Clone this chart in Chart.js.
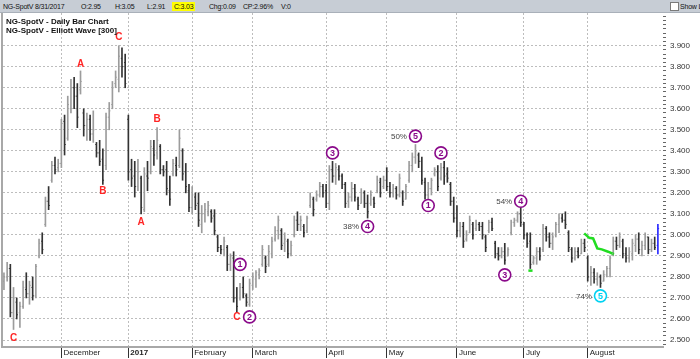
<!DOCTYPE html>
<html>
<head>
<meta charset="utf-8">
<script src="https://cdn.jsdelivr.net/npm/chart.js@4.4.0/dist/chart.umd.min.js"></script>
<style>
  body { margin: 0; background: #fff; }
  #wrap { position: relative; width: 700px; height: 359px; overflow: hidden; font-family: "Liberation Sans", Arial, sans-serif; }
  #chart { position: absolute; left: 0; top: 0; }
  #header { position: absolute; left: 0; top: 0; width: 700px; height: 13px; background: #c7cdd5; border-bottom: 1px solid #a9b0b9; box-sizing: border-box; font-size: 7px; letter-spacing: -0.2px; color: #111; }
  #header span { position: absolute; top: 2px; line-height: 9px; white-space: nowrap; }
  #header .hl { background: #ffff00; padding: 0 2px; margin-left: -2px; }
  #header .box { width: 7px; height: 7px; top: 2px; background: #fff; border: 1px solid #7a7a7a; }
  #titles { position: absolute; left: 6px; top: 18px; font-weight: bold; font-size: 8px; line-height: 8.5px; color: #111; }
  #leftEdge { position: absolute; left: 1px; top: 13px; width: 2px; height: 335px; background: #a8a8a8; }
</style>
</head>
<body>
<div id="wrap">
  <canvas id="chart" width="700" height="359"></canvas>
  <div id="leftEdge"></div>
  <div id="header">
    <span style="left:3px">NG-SpotV</span>
    <span style="left:35px">8/31/2017</span>
    <span style="left:81px">O:2.95</span>
    <span style="left:115px">H:3.05</span>
    <span style="left:147px">L:2.91</span>
    <span class="hl" style="left:174px">C:3.03</span>
    <span style="left:209px">Chg:0.09</span>
    <span style="left:243px">CP:2.96%</span>
    <span style="left:281px">V:0</span>
    <span class="box" style="left:670px"></span>
    <span style="left:680px">Show L</span>
  </div>
  <div id="titles">NG-SpotV - Daily Bar Chart<br>NG-SpotV - Elliott Wave [300]</div>
</div>
<script>
// daily bars, Nov 2016 .. 31 Aug 2017 (index = trading day)
const highs = [
  2.82, 2.87, 2.86, 2.75, 2.70, 2.68, 2.78, 2.82, 2.78, 2.80,
  2.86, 2.98, 3.01, 3.18, 3.23, 3.35, 3.37, 3.36, 3.55, 3.57,
  3.66, 3.74, 3.75, 3.72, 3.78, 3.60, 3.58, 3.57, 3.59, 3.44,
  3.45, 3.41, 3.58, 3.63, 3.73, 3.78, 3.90, 3.89, 3.86, 3.57,
  3.36, 3.35, 3.36, 3.28, 3.32, 3.35, 3.45, 3.45, 3.51, 3.43,
  3.33, 3.35, 3.28, 3.36, 3.37, 3.50, 3.41, 3.34, 3.24, 3.23,
  3.20, 3.20, 3.14, 3.15, 3.16, 3.12, 3.12, 3.00, 2.95, 2.99,
  2.95, 2.91, 2.92, 2.75, 2.77, 2.80, 2.72, 2.79, 2.82, 2.83,
  2.84, 2.95, 2.90, 2.95, 2.99, 3.04, 3.09, 3.03, 3.01, 2.98,
  2.97, 3.09, 3.11, 3.09, 3.05, 3.09, 3.20, 3.18, 3.21, 3.25,
  3.24, 3.24, 3.33, 3.35, 3.34, 3.33, 3.29, 3.25, 3.20, 3.25,
  3.24, 3.18, 3.22, 3.21, 3.19, 3.21, 3.18, 3.28, 3.27, 3.28,
  3.32, 3.25, 3.24, 3.23, 3.29, 3.21, 3.24, 3.35, 3.39, 3.43,
  3.39, 3.37, 3.27, 3.25, 3.27, 3.32, 3.33, 3.34, 3.35, 3.32,
  3.25, 3.18, 3.14, 3.06, 3.06, 3.02, 3.09, 3.06, 3.07, 3.06,
  3.06, 3.00, 3.07, 3.08, 2.97, 2.94, 2.94, 2.96, 2.94, 3.07,
  3.08, 3.11, 3.13, 3.06, 3.01, 3.01, 2.90, 2.94, 2.94, 3.05,
  3.04, 3.01, 3.01, 3.06, 3.10, 3.10, 3.11, 3.02, 2.94, 2.94,
  2.94, 2.98, 2.98, 2.90, 2.85, 2.84, 2.82, 2.81, 2.83, 2.85,
  2.90, 2.99, 2.99, 3.01, 2.98, 2.94, 2.94, 2.98, 3.00, 3.01,
  2.97, 3.01, 2.99, 2.98, 2.99, 3.05
];
const lows = [
  2.74, 2.78, 2.61, 2.55, 2.60, 2.56, 2.65, 2.70, 2.67, 2.69,
  2.70, 2.89, 2.91, 3.04, 3.12, 3.25, 3.29, 3.30, 3.32, 3.38,
  3.45, 3.58, 3.60, 3.51, 3.67, 3.47, 3.45, 3.45, 3.44, 3.37,
  3.33, 3.24, 3.31, 3.50, 3.60, 3.70, 3.68, 3.75, 3.70, 3.26,
  3.23, 3.18, 3.21, 3.10, 3.11, 3.21, 3.29, 3.33, 3.36, 3.29,
  3.28, 3.19, 3.14, 3.28, 3.28, 3.32, 3.26, 3.20, 3.11, 3.10,
  3.12, 3.04, 3.01, 3.06, 3.09, 3.06, 3.00, 2.92, 2.91, 2.90,
  2.83, 2.83, 2.68, 2.63, 2.69, 2.70, 2.66, 2.66, 2.74, 2.75,
  2.79, 2.85, 2.82, 2.85, 2.89, 2.97, 2.98, 2.93, 2.92, 2.89,
  2.90, 2.99, 3.02, 3.02, 2.99, 3.01, 3.13, 3.09, 3.16, 3.18,
  3.18, 3.13, 3.12, 3.25, 3.24, 3.26, 3.22, 3.13, 3.13, 3.16,
  3.16, 3.12, 3.15, 3.13, 3.08, 3.14, 3.13, 3.20, 3.18, 3.22,
  3.21, 3.18, 3.18, 3.17, 3.18, 3.14, 3.17, 3.25, 3.30, 3.34,
  3.32, 3.24, 3.17, 3.16, 3.19, 3.28, 3.21, 3.26, 3.24, 3.25,
  3.14, 3.06, 2.99, 2.99, 2.94, 2.97, 3.01, 2.98, 3.02, 3.02,
  2.98, 2.92, 3.01, 3.02, 2.89, 2.88, 2.89, 2.86, 2.90, 3.00,
  3.04, 3.06, 3.04, 2.98, 2.94, 2.84, 2.86, 2.86, 2.88, 2.92,
  2.97, 2.94, 2.93, 2.99, 3.01, 3.06, 3.03, 2.92, 2.87, 2.88,
  2.89, 2.91, 2.92, 2.78, 2.76, 2.77, 2.76, 2.75, 2.78, 2.80,
  2.80, 2.90, 2.93, 2.94, 2.89, 2.87, 2.87, 2.88, 2.92, 2.91,
  2.90, 2.93, 2.91, 2.92, 2.93, 2.91
];
const opens = [
  2.78, 2.80, 2.84, 2.63, 2.68, 2.63, 2.66, 2.74, 2.72, 2.75,
  2.71, 2.90, 2.97, 3.05, 3.16, 3.26, 3.33, 3.32, 3.34, 3.54,
  3.46, 3.60, 3.70, 3.66, 3.69, 3.58, 3.52, 3.55, 3.48, 3.43,
  3.39, 3.36, 3.33, 3.56, 3.62, 3.72, 3.74, 3.84, 3.82, 3.55,
  3.31, 3.28, 3.23, 3.27, 3.12, 3.28, 3.30, 3.41, 3.39, 3.42,
  3.31, 3.31, 3.21, 3.29, 3.33, 3.33, 3.40, 3.30, 3.21, 3.13,
  3.18, 3.15, 3.05, 3.10, 3.11, 3.11, 3.09, 2.99, 2.94, 2.93,
  2.94, 2.86, 2.89, 2.70, 2.70, 2.75, 2.71, 2.67, 2.76, 2.79,
  2.81, 2.86, 2.89, 2.86, 2.91, 2.98, 3.02, 3.02, 2.96, 2.97,
  2.91, 3.00, 3.07, 3.05, 3.04, 3.02, 3.14, 3.17, 3.17, 3.19,
  3.23, 3.21, 3.15, 3.31, 3.28, 3.31, 3.28, 3.24, 3.16, 3.18,
  3.22, 3.17, 3.15, 3.20, 3.15, 3.15, 3.17, 3.21, 3.25, 3.23,
  3.26, 3.23, 3.20, 3.22, 3.19, 3.20, 3.17, 3.26, 3.33, 3.37,
  3.38, 3.35, 3.25, 3.19, 3.22, 3.29, 3.30, 3.27, 3.32, 3.29,
  3.24, 3.16, 3.08, 3.02, 3.04, 2.98, 3.01, 3.05, 3.03, 3.05,
  3.04, 2.99, 3.02, 3.06, 2.96, 2.91, 2.90, 2.92, 2.90, 3.01,
  3.06, 3.07, 3.10, 3.05, 3.00, 2.97, 2.87, 2.89, 2.92, 2.93,
  3.03, 2.99, 2.96, 3.00, 3.05, 3.08, 3.07, 3.01, 2.93, 2.89,
  2.92, 2.91, 2.96, 2.89, 2.80, 2.82, 2.79, 2.80, 2.78, 2.81,
  2.84, 2.91, 2.97, 2.95, 2.97, 2.91, 2.89, 2.91, 2.95, 2.98,
  2.93, 2.95, 2.99, 2.93, 2.96, 2.95
];
const closes = [
  2.80, 2.84, 2.63, 2.70, 2.62, 2.66, 2.75, 2.72, 2.76, 2.71,
  2.85, 2.96, 2.93, 3.16, 3.14, 3.33, 3.31, 3.34, 3.53, 3.43,
  3.62, 3.70, 3.66, 3.56, 3.73, 3.52, 3.55, 3.48, 3.50, 3.39,
  3.35, 3.26, 3.56, 3.59, 3.70, 3.75, 3.85, 3.80, 3.72, 3.30,
  3.27, 3.23, 3.30, 3.13, 3.29, 3.27, 3.42, 3.38, 3.45, 3.31,
  3.30, 3.22, 3.17, 3.34, 3.31, 3.46, 3.29, 3.23, 3.13, 3.19,
  3.14, 3.07, 3.10, 3.12, 3.14, 3.08, 3.02, 2.94, 2.93, 2.97,
  2.86, 2.90, 2.70, 2.66, 2.75, 2.72, 2.68, 2.77, 2.80, 2.82,
  2.83, 2.93, 2.85, 2.92, 2.97, 3.02, 3.07, 2.95, 2.98, 2.91,
  2.95, 3.07, 3.05, 3.07, 3.01, 3.08, 3.18, 3.12, 3.19, 3.23,
  3.20, 3.15, 3.31, 3.28, 3.32, 3.28, 3.24, 3.15, 3.18, 3.22,
  3.18, 3.14, 3.20, 3.15, 3.11, 3.19, 3.15, 3.26, 3.20, 3.26,
  3.23, 3.20, 3.22, 3.19, 3.27, 3.16, 3.23, 3.33, 3.37, 3.40,
  3.35, 3.26, 3.19, 3.22, 3.26, 3.31, 3.23, 3.32, 3.28, 3.27,
  3.16, 3.08, 3.02, 3.04, 2.97, 3.00, 3.07, 3.00, 3.05, 3.04,
  3.00, 2.94, 3.06, 3.03, 2.91, 2.90, 2.92, 2.88, 2.93, 3.06,
  3.07, 3.10, 3.06, 3.00, 2.96, 2.86, 2.89, 2.92, 2.90, 3.03,
  2.99, 2.96, 2.99, 3.05, 3.08, 3.07, 3.05, 2.94, 2.89, 2.92,
  2.90, 2.96, 2.94, 2.80, 2.82, 2.79, 2.80, 2.77, 2.81, 2.84,
  2.89, 2.97, 2.95, 2.99, 2.91, 2.89, 2.92, 2.96, 2.98, 2.93,
  2.95, 2.99, 2.93, 2.96, 2.94, 3.03
];

// x axis: first bar of each month
const monthStarts = [18, 39, 59, 78, 101, 120, 142, 163, 183];
const monthNames = ['December', '2017', 'February', 'March', 'April', 'May', 'June', 'July', 'August'];
const priceTicks = [2.5, 2.6, 2.7, 2.8, 2.9, 3.0, 3.1, 3.2, 3.3, 3.4, 3.5, 3.6, 3.7, 3.8, 3.9];

// Elliott wave letters (bar index, price)
const letterText = ['C', 'A', 'B', 'C', 'A', 'B', 'C'];
const letterBar = [3, 24, 31, 36, 43, 48, 73];
const letterPrice = [2.51, 3.81, 3.21, 3.94, 3.06, 3.55, 2.61];

// circled wave counts
const countText = ['1', '2', '3', '4', '5', '1', '2', '3', '4', '5'];
const countBar = [74, 77, 103, 114, 129, 133, 137, 157, 162, 187];
const countPrice = [2.86, 2.61, 3.39, 3.04, 3.47, 3.14, 3.39, 2.81, 3.16, 2.71];
const countPct = ['', '', '', '38%', '50%', '', '', '', '54%', '74%'];

// green projection line
const trailBar = [181.9, 183.5, 184.7, 186.0, 187.4, 189.4, 191.2];
const trailPrice = [3.007, 2.986, 2.983, 2.936, 2.931, 2.920, 2.908];
const markBar = [164.4, 165.7];
const markPrice = [2.83, 2.83];

const lastIdx = highs.length - 1;
const barColors = opens.map((o, i) => i === lastIdx ? '#2a2aff' : (closes[i] >= o ? '#9c9c9c' : '#333333'));
const FONT = '"Liberation Sans", Arial, sans-serif';

const ohlcTicks = {
    id: 'ohlcTicks',
    afterDatasetsDraw(chart) {
        const { ctx, scales: { x, y } } = chart;
        ctx.save();
        ctx.lineWidth = 1;
        opens.forEach((o, i) => {
            const px = x.getPixelForValue(i);
            const yo = y.getPixelForValue(o);
            const yc = y.getPixelForValue(closes[i]);
            ctx.strokeStyle = barColors[i];
            ctx.beginPath();
            ctx.moveTo(px - 1.2, yo);
            ctx.lineTo(px, yo);
            ctx.moveTo(px, yc);
            ctx.lineTo(px + 1.2, yc);
            ctx.stroke();
        });
        ctx.restore();
    }
};

const waveMarks = {
    id: 'waveMarks',
    afterDraw(chart) {
        const { ctx, scales: { x, y } } = chart;
        ctx.save();
        ctx.textAlign = 'center';
        ctx.textBaseline = 'middle';
        ctx.font = 'bold 10px ' + FONT;
        ctx.fillStyle = '#ff2626';
        letterText.forEach((t, i) => {
            ctx.fillText(t, x.getPixelForValue(letterBar[i]), y.getPixelForValue(letterPrice[i]));
        });
        countText.forEach((t, i) => {
            const px = x.getPixelForValue(countBar[i]);
            const py = y.getPixelForValue(countPrice[i]);
            const col = i === countText.length - 1 ? '#00d2f2' : '#8a0a8a';
            ctx.beginPath();
            ctx.arc(px, py, 6, 0, Math.PI * 2);
            ctx.fillStyle = '#fff';
            ctx.fill();
            ctx.lineWidth = 1.6;
            ctx.strokeStyle = col;
            ctx.stroke();
            ctx.fillStyle = col;
            ctx.font = 'bold 9px ' + FONT;
            ctx.textAlign = 'center';
            ctx.fillText(t, px, py + 0.5);
            if (countPct[i]) {
                ctx.font = '8px ' + FONT;
                ctx.fillStyle = '#444';
                ctx.textAlign = 'right';
                ctx.fillText(countPct[i], px - 8.5, py + 0.5);
            }
        });
        ctx.restore();
    }
};

const isMajor = v => priceTicks.some(p => Math.abs(p - v) < 1e-6);

new Chart(document.getElementById('chart').getContext('2d'), {
    type: 'bar',
    data: {
        datasets: [{
            type: 'line',
            data: trailBar.map((b, i) => ({ x: b, y: trailPrice[i] })),
            borderColor: '#22dd22',
            borderWidth: 2.5,
            pointRadius: 0,
            tension: 0,
            order: 0
        }, {
            type: 'line',
            data: markBar.map((b, i) => ({ x: b, y: markPrice[i] })),
            borderColor: '#22dd22',
            borderWidth: 2.5,
            pointRadius: 0,
            order: 0
        }, {
            type: 'bar',
            data: lows.map((lo, i) => ({ x: i, y: [lo, highs[i]] })),
            backgroundColor: barColors,
            barThickness: 1,
            grouped: false,
            order: 1
        }]
    },
    options: {
        responsive: false,
        animation: false,
        layout: { padding: { left: 3, top: 13, right: 0, bottom: 0 } },
        plugins: {
            legend: { display: false },
            tooltip: { enabled: false }
        },
        scales: {
            x: {
                type: 'linear',
                min: -0.3,
                max: 206.6,
                offset: false,
                afterBuildTicks: s => { s.ticks = monthStarts.map(v => ({ value: v })); },
                afterFit: s => { s.height = 12; },
                grid: {
                    offset: false,
                    color: '#bdbdbd',
                    tickColor: '#333',
                    tickLength: 11,
                    tickBorderDash: []
                },
                border: { display: true, color: '#a8a8a8', width: 2, dash: [2, 2] },
                ticks: {
                    autoSkip: false,
                    maxRotation: 0,
                    align: 'start',
                    padding: -10,
                    labelOffset: 2,
                    color: '#222',
                    font: c => ({ family: FONT, size: 8, weight: c.tick && c.tick.value === 39 ? 'bold' : 'normal' }),
                    callback: v => monthNames[monthStarts.indexOf(v)] || ''
                }
            },
            y: {
                position: 'right',
                min: 2.4667,
                max: 4.0556,
                afterBuildTicks: s => {
                    const t = [];
                    for (let k = 124; k <= 202; k++) t.push({ value: k / 50 });
                    s.ticks = t;
                },
                afterFit: s => { s.width = 37; },
                grid: {
                    color: c => (c.tick && isMajor(c.tick.value)) ? '#bdbdbd' : 'rgba(0,0,0,0)',
                    tickColor: '#666',
                    tickLength: 3,
                    tickBorderDash: []
                },
                border: { display: false, dash: [2, 2] },
                ticks: {
                    autoSkip: false,
                    padding: 4,
                    color: '#333',
                    font: { family: FONT, size: 8 },
                    callback: v => isMajor(v) ? v.toFixed(3) : ''
                }
            }
        }
    },
    plugins: [ohlcTicks, waveMarks]
});
</script>
</body>
</html>
